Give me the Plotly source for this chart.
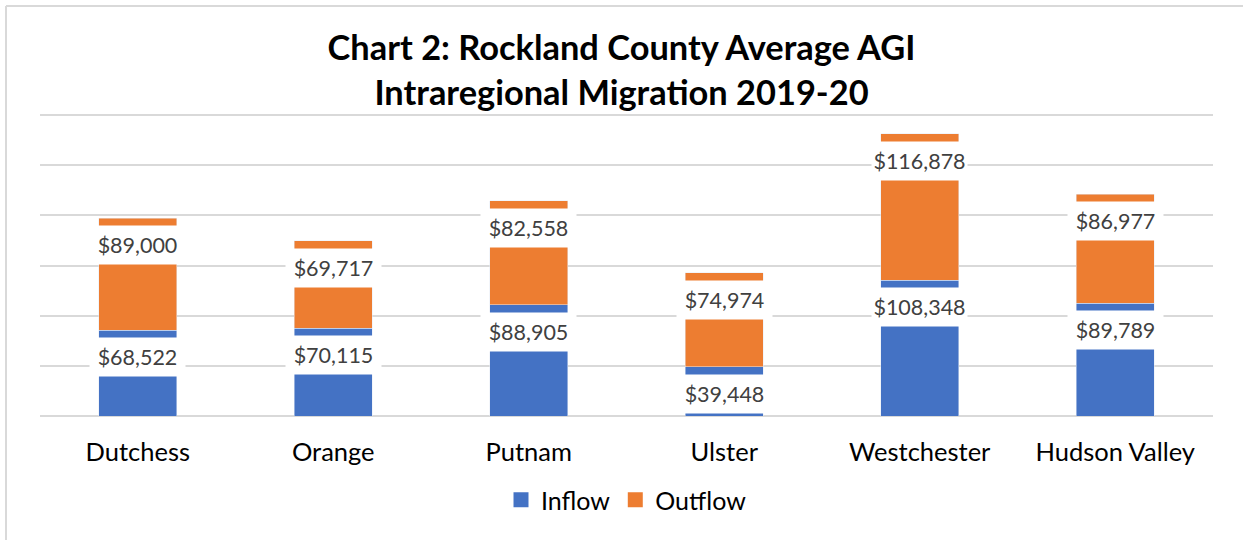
import plotly.graph_objects as go

regions = ["Dutchess", "Orange", "Putnam", "Ulster", "Westchester", "Hudson Valley"]
inflow = [68522, 70115, 88905, 39448, 108348, 89789]
outflow = [89000, 69717, 82558, 74974, 116878, 86977]

BLUE = "#4472C4"
ORANGE = "#ED7D31"
FONT = "Lato"

W, H = 1243, 540
L, R, T, B = 40, 30, 112, 124
pw, ph = W - L - R, H - T - B
# 240,000 sits 301px above the baseline, a couple of px under the plot top
ytop = 240000 * ph / 301


def px_x(p):
    return (p - L) / pw


def px_y(p):
    return (H - B - p) / ph


fig = go.Figure()
fig.add_bar(x=regions, y=inflow, name="Inflow", marker_color=BLUE, width=0.4, showlegend=False)
fig.add_bar(x=regions, y=outflow, name="Outflow", marker_color=ORANGE, width=0.4, showlegend=False)
# legend entries with bigger square swatches, like Excel's
for name, col in [("Inflow", BLUE), ("Outflow", ORANGE)]:
    fig.add_scatter(x=[None], y=[None], mode="markers", name=name,
                    marker=dict(symbol="square", size=15, color=col))

# Excel-style data labels: white boxes sitting just below the top of each segment
annotations = []
for r, a, b in zip(regions, inflow, outflow):
    for top, val in [(a, a), (a + b, b)]:
        annotations.append(dict(
            x=r, y=top, xref="x", yref="y", yanchor="top", yshift=-7,
            text=f"${val:,}", showarrow=False, bgcolor="white",
            width=95, height=38, borderpad=0,
            font=dict(family=FONT, size=21.5, color="#404040"),
        ))

# chart frame
shapes = [
    dict(type="line", xref="paper", yref="paper", x0=px_x(6), x1=px_x(6),
         y0=px_y(6), y1=px_y(545), line=dict(color="#d9d9d9", width=2)),
    dict(type="line", xref="paper", yref="paper", x0=px_x(6), x1=px_x(1250),
         y0=px_y(6), y1=px_y(6), line=dict(color="#d9d9d9", width=2)),
]

fig.update_layout(
    width=W, height=H,
    barmode="stack",
    bargap=0.6,
    plot_bgcolor="white", paper_bgcolor="white",
    margin=dict(l=L, r=R, t=T, b=B, autoexpand=False),
    title=dict(
        text="<b>Chart 2: Rockland County Average AGI<br>Intraregional Migration 2019-20</b>",
        x=0.5, xanchor="center", y=1 - 60 / H, yanchor="top",
        font=dict(family=FONT, size=34.4, color="#000000"),
    ),
    font=dict(family=FONT),
    showlegend=True,
    legend=dict(orientation="h", x=0.5, xanchor="center", y=px_y(500), yanchor="middle",
                font=dict(family=FONT, size=25, color="#000000"), traceorder="normal"),
    annotations=annotations,
    shapes=shapes,
)
fig.update_xaxes(showline=False, ticks="", ticklabelstandoff=18,
                 tickfont=dict(family=FONT, size=25.5, color="#000000"))
fig.update_yaxes(range=[0, ytop], tick0=0, dtick=40000, showticklabels=False, gridcolor="#d9d9d9",
                 gridwidth=2, zeroline=True, zerolinecolor="#d9d9d9", zerolinewidth=2)

fig.write_html("out.html", config={"displayModeBar": False},
               post_script="document.body.style.margin='0';")
